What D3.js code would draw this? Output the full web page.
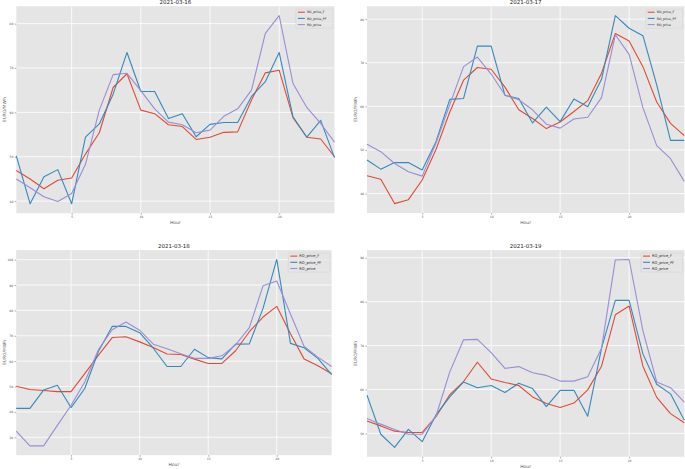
<!DOCTYPE html>
<html>
<head>
<meta charset="utf-8">
<script src="https://cdn.jsdelivr.net/npm/d3@7/dist/d3.min.js"></script>
<style>
  html, body { margin: 0; padding: 0; background: #ffffff; }
  svg { display: block; font-family: "DejaVu Sans", sans-serif; }
</style>
</head>
<body>
<svg id="chart" width="685" height="469"></svg>
<script>
// ---------------- data ----------------
const hours = d3.range(1, 25);
const seriesNames = ["RO_price_F", "RO_price_PF", "RO_price"];
const seriesColors = ["#E24A33", "#348ABD", "#988ED5"];
const xTicks = [5, 10, 15, 20];

const titles = ["2021-03-16", "2021-03-17", "2021-03-18", "2021-03-19"];

const f16  = [46.9,45.0,42.8,44.7,45.2,50.6,55.4,65.6,68.7,60.5,59.7,57.2,56.8,53.9,54.4,55.5,55.6,62.8,68.9,69.5,58.8,54.4,54.0,50.0];
const pf16 = [50.2,39.4,45.5,47.1,39.4,54.4,57.4,64.1,73.5,64.7,64.7,58.6,59.7,54.5,57.3,57.7,57.7,63.6,66.9,73.5,59.0,54.4,58.2,49.8];
const p16  = [45.0,43.0,41.0,39.9,41.7,48.3,60.5,68.5,68.8,64.9,60.8,57.8,57.2,55.4,56.0,59.1,60.8,65.0,77.8,81.8,66.5,61.1,57.5,53.3];

const f17  = [44.1,43.3,37.7,38.6,43.1,50.1,58.7,66.0,68.9,68.5,64.4,59.2,57.2,54.9,56.4,58.8,61.3,67.6,76.7,75.0,69.1,61.0,56.1,53.3];
const pf17 = [47.7,45.6,47.1,47.1,45.4,51.9,61.6,61.8,73.8,73.8,62.5,61.8,56.2,59.8,56.5,61.7,59.9,66.2,80.8,77.9,76.2,64.9,52.2,52.2];
const p17  = [51.3,49.6,46.9,45.0,44.0,51.6,60.4,69.1,71.3,67.4,62.6,61.5,59.2,55.9,55.0,57.1,57.5,62.0,76.4,71.9,59.7,51.0,48.0,42.8];

const f18  = [50.1,48.8,48.4,48.0,48.0,55.1,62.4,69.3,69.6,67.6,65.4,62.8,62.6,60.8,59.1,59.1,64.1,71.6,77.4,81.6,70.8,60.8,58.2,55.0];
const pf18 = [41.4,41.4,48.6,50.5,41.7,49.2,63.9,73.7,73.7,71.2,65.1,57.9,57.9,64.7,61.4,60.9,66.7,66.8,80.8,100.1,67.0,65.3,61.1,54.7];
const p18  = [32.4,26.6,26.6,34.7,42.6,51.8,64.6,72.4,75.4,72.2,66.7,64.9,62.9,61.1,61.1,62.1,66.4,73.2,89.7,91.6,78.6,65.8,61.6,57.9];

const f19  = [52.8,51.7,50.5,50.2,50.2,53.8,58.8,61.8,66.2,62.4,61.6,60.9,58.3,56.8,55.9,56.9,59.9,65.3,77.0,79.0,65.3,58.2,54.5,52.4];
const pf19 = [58.7,49.8,46.8,50.9,48.1,54.2,58.3,61.7,60.4,60.9,59.3,61.4,60.2,56.1,59.8,59.8,53.9,69.4,80.3,80.3,68.1,61.2,59.0,53.0];
const p19  = [53.4,52.1,50.9,49.8,49.8,53.9,64.0,71.3,71.4,68.4,64.8,65.2,63.8,63.2,61.9,61.9,62.9,69.4,89.5,89.6,73.4,61.7,60.4,57.1];

const yTicks16 = [40, 50, 60, 70, 80];
const yTicks17 = [40, 50, 60, 70, 80];
const yTicks18 = [30, 40, 50, 60, 70, 80, 90, 100];
const yTicks19 = [50, 60, 70, 80, 90];

// ---------------- layout ----------------
const panels = [
  { title: titles[0], series: [f16, pf16, p16], yTicks: yTicks16, x0: 16.3, x1: 334.5, y0: 6.2, y1: 213.2, legFont: 3.2 },
  { title: titles[1], series: [f17, pf17, p17], yTicks: yTicks17, x0: 367.0, x1: 684.3, y0: 6.2, y1: 213.0, legFont: 3.2 },
  { title: titles[2], series: [f18, pf18, p18], yTicks: yTicks18, x0: 16.2, x1: 331.6, y0: 250.1, y1: 455.2, legFont: 3.6 },
  { title: titles[3], series: [f19, pf19, p19], yTicks: yTicks19, x0: 367.0, x1: 684.3, y0: 250.1, y1: 456.8, legFont: 3.6 }
];

const svg = d3.select("#chart");

panels.forEach(p => {
  const g = svg.append("g");
  const all = p.series.flat();
  const mn = d3.min(all), mx = d3.max(all);
  const pad = (mx - mn) * 0.05;
  const x = d3.scaleLinear().domain([1, 24]).range([p.x0, p.x1]);
  const y = d3.scaleLinear().domain([mn - pad, mx + pad]).range([p.y1, p.y0]);

  // background
  g.append("rect")
    .attr("x", p.x0).attr("y", p.y0)
    .attr("width", p.x1 - p.x0).attr("height", p.y1 - p.y0)
    .attr("fill", "#E5E5E5");

  // grid
  g.selectAll(".gx").data(xTicks).join("line")
    .attr("x1", d => x(d)).attr("x2", d => x(d))
    .attr("y1", p.y0).attr("y2", p.y1)
    .attr("stroke", "#ffffff").attr("stroke-width", 0.8);
  g.selectAll(".gy").data(p.yTicks).join("line")
    .attr("x1", p.x0).attr("x2", p.x1)
    .attr("y1", d => y(d)).attr("y2", d => y(d))
    .attr("stroke", "#ffffff").attr("stroke-width", 0.8);

  // axes (tick labels only, ggplot style)
  const xAxis = d3.axisBottom(x).tickValues(xTicks).tickSize(1.5).tickPadding(1.5);
  const ax = g.append("g").attr("transform", `translate(0,${p.y1})`).call(xAxis);
  const yAxis = d3.axisLeft(y).tickValues(p.yTicks).tickSize(1.5).tickPadding(1.5);
  const ay = g.append("g").attr("transform", `translate(${p.x0},0)`).call(yAxis);
  [ax, ay].forEach(a => {
    a.select(".domain").remove();
    a.selectAll(".tick line").attr("stroke", "#555555").attr("stroke-width", 0.5);
    a.selectAll(".tick text").attr("fill", "#555555")
      .style("font-size", "3px").style("font-family", "DejaVu Sans, sans-serif");
  });

  // lines
  const line = d3.line().x((d, i) => x(hours[i])).y(d => y(d));
  p.series.forEach((s, k) => {
    g.append("path").datum(s)
      .attr("fill", "none")
      .attr("stroke", seriesColors[k])
      .attr("stroke-width", 1.1)
      .attr("stroke-linejoin", "round")
      .attr("d", line);
  });

  // title
  g.append("text")
    .attr("x", (p.x0 + p.x1) / 2).attr("y", p.y0 - 2)
    .attr("text-anchor", "middle")
    .style("font-size", "5.5px").attr("fill", "#222222")
    .text(p.title);

  // axis labels
  g.append("text")
    .attr("x", (p.x0 + p.x1) / 2).attr("y", p.y1 + 11)
    .attr("text-anchor", "middle")
    .style("font-size", "4.5px").attr("fill", "#555555")
    .text("Hour");
  g.append("text")
    .attr("transform", `translate(${p.x0 - 10},${(p.y0 + p.y1) / 2}) rotate(-90)`)
    .attr("text-anchor", "middle")
    .style("font-size", "4.4px").attr("fill", "#555555")
    .text("EURO/MWh");

  // legend
  const lf = p.legFont;
  const legW = lf * 11.6;
  const legH = 19;
  const lx = p.x1 - legW - 1.5;
  const ly = p.y0 + 3;
  const leg = g.append("g");
  leg.append("rect")
    .attr("x", lx).attr("y", ly).attr("width", legW).attr("height", legH)
    .attr("rx", 0.8)
    .attr("fill", "#E5E5E5").attr("fill-opacity", 0.8)
    .attr("stroke", "#cccccc").attr("stroke-width", 0.4);
  seriesNames.forEach((n, k) => {
    const yy = ly + 3 + k * 6.2;
    leg.append("line")
      .attr("x1", lx + 2).attr("x2", lx + 9)
      .attr("y1", yy).attr("y2", yy)
      .attr("stroke", seriesColors[k]).attr("stroke-width", 1.1);
    leg.append("text")
      .attr("x", lx + 11).attr("y", yy)
      .attr("dy", "0.35em")
      .style("font-size", lf + "px").attr("fill", "#222222")
      .text(n);
  });
});
</script>
</body>
</html>
